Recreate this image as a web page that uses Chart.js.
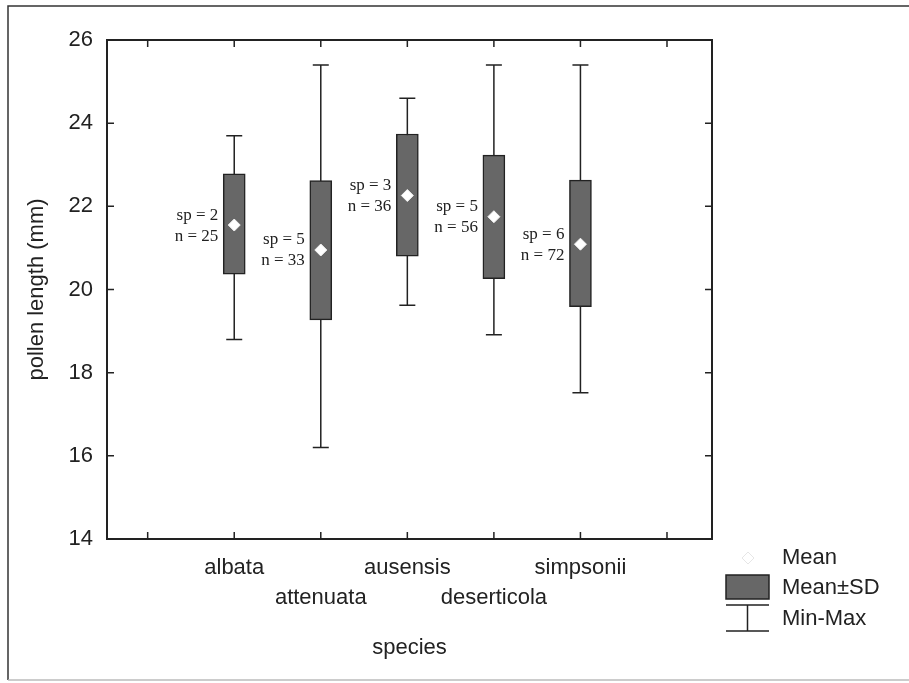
<!DOCTYPE html>
<html>
<head>
<meta charset="utf-8">
<script src="https://cdn.jsdelivr.net/npm/chart.js@4.4.1/dist/chart.umd.min.js"></script>
<style>
  html, body { margin: 0; padding: 0; background: #fff; }
  canvas { display: block; }
</style>
</head>
<body>
<canvas id="my_canvas" width="909" height="683"></canvas>
<script>
// values
const species = ['albata', 'attenuata', 'ausensis', 'deserticola', 'simpsonii'];
const meanVals = [21.55, 20.95, 22.26, 21.75, 21.09];
const sdLow = [20.37, 19.27, 20.80, 20.26, 19.59];
const sdHigh = [22.78, 22.62, 23.74, 23.23, 22.63];
const minVals = [18.80, 16.20, 19.62, 18.91, 17.52];
const maxVals = [23.70, 25.40, 24.60, 25.40, 25.40];
const spCounts = [2, 5, 3, 5, 6];
const nCounts = [25, 33, 36, 56, 72];
const yTicks = [14, 16, 18, 20, 22, 24, 26];
const xTicks = [0, 1, 2, 3, 4, 5, 6];

const ink = '#222';
const boxFill = '#676767';
const boxWidth = 22;
const capWidth = 16;

Chart.defaults.font.family = '"Liberation Sans", Arial, Helvetica, sans-serif';
Chart.defaults.color = ink;

const boxData = species.map((s, i) => ({ x: i + 1, y: [sdLow[i], sdHigh[i]] }));
const meanData = species.map((s, i) => ({ x: i + 1, y: meanVals[i] }));

const framePlugin = {
    id: 'framePlugin',
    beforeDraw(chart) {
        const ctx = chart.ctx;
        ctx.save();
        ctx.fillStyle = '#fff';
        ctx.fillRect(0, 0, chart.width, chart.height);
        // outer border of the figure
        ctx.strokeStyle = '#333';
        ctx.lineWidth = 1.5;
        ctx.beginPath();
        ctx.moveTo(8, 680);
        ctx.lineTo(8, 6);
        ctx.lineTo(909, 6);
        ctx.stroke();
        ctx.strokeStyle = '#bbb';
        ctx.beginPath();
        ctx.moveTo(8, 680);
        ctx.lineTo(909, 680);
        ctx.stroke();
        ctx.restore();
    },
    beforeDatasetsDraw(chart) {
        // whiskers behind the boxes
        const ctx = chart.ctx;
        const xs = chart.scales.x;
        const ys = chart.scales.y;
        ctx.save();
        ctx.strokeStyle = ink;
        ctx.lineWidth = 1.5;
        species.forEach((s, i) => {
            const px = xs.getPixelForValue(i + 1);
            const top = ys.getPixelForValue(maxVals[i]);
            const bot = ys.getPixelForValue(minVals[i]);
            ctx.beginPath();
            ctx.moveTo(px, top);
            ctx.lineTo(px, bot);
            ctx.moveTo(px - capWidth / 2, top);
            ctx.lineTo(px + capWidth / 2, top);
            ctx.moveTo(px - capWidth / 2, bot);
            ctx.lineTo(px + capWidth / 2, bot);
            ctx.stroke();
        });
        ctx.restore();
    },
    afterDraw(chart) {
        const ctx = chart.ctx;
        const area = chart.chartArea;
        const xs = chart.scales.x;
        const ys = chart.scales.y;
        const tick = 7;
        ctx.save();
        ctx.strokeStyle = ink;
        ctx.lineWidth = 2;
        ctx.strokeRect(area.left, area.top, area.right - area.left, area.bottom - area.top);
        ctx.lineWidth = 1.5;
        ctx.beginPath();
        yTicks.forEach(v => {
            const py = ys.getPixelForValue(v);
            ctx.moveTo(area.left, py);
            ctx.lineTo(area.left + tick, py);
            ctx.moveTo(area.right, py);
            ctx.lineTo(area.right - tick, py);
        });
        xTicks.forEach(v => {
            const px = xs.getPixelForValue(v);
            ctx.moveTo(px, area.bottom);
            ctx.lineTo(px, area.bottom - tick);
            ctx.moveTo(px, area.top);
            ctx.lineTo(px, area.top + tick);
        });
        ctx.stroke();

        // sp / n notes left of each box
        ctx.font = '17px "Liberation Serif", "Times New Roman", serif';
        ctx.fillStyle = ink;
        ctx.textAlign = 'right';
        ctx.textBaseline = 'middle';
        species.forEach((s, i) => {
            const px = xs.getPixelForValue(i + 1) - boxWidth / 2 - 5;
            const py = ys.getPixelForValue(meanVals[i]);
            ctx.fillText('sp = ' + spCounts[i], px, py - 10);
            ctx.fillText('n = ' + nCounts[i], px, py + 11);
        });

        // legend
        const lx = 726, lw = 43, tx = 782;
        ctx.fillStyle = '#fff';
        ctx.strokeStyle = '#e6e6e6';
        ctx.lineWidth = 1;
        ctx.beginPath();
        ctx.moveTo(748, 552);
        ctx.lineTo(754, 558);
        ctx.lineTo(748, 564);
        ctx.lineTo(742, 558);
        ctx.closePath();
        ctx.fill();
        ctx.stroke();

        ctx.fillStyle = boxFill;
        ctx.fillRect(lx, 575, lw, 24);
        ctx.strokeStyle = ink;
        ctx.lineWidth = 1.5;
        ctx.strokeRect(lx, 575, lw, 24);
        ctx.beginPath();
        ctx.moveTo(lx, 605);
        ctx.lineTo(lx + lw, 605);
        ctx.moveTo(lx + lw / 2, 605);
        ctx.lineTo(lx + lw / 2, 631);
        ctx.moveTo(lx, 631);
        ctx.lineTo(lx + lw, 631);
        ctx.stroke();

        ctx.font = '22px "Liberation Sans", Arial, sans-serif';
        ctx.fillStyle = ink;
        ctx.textAlign = 'left';
        ctx.fillText('Mean', tx, 558);
        ctx.fillText('Mean\u00B1SD', tx, 588);
        ctx.fillText('Min-Max', tx, 619);
        ctx.restore();
    }
};

const canvas_element = document.getElementById('my_canvas').getContext('2d');

const the_chart = new Chart(canvas_element, {
    type: 'bar',
    data: {
        datasets: [{
            label: 'Mean\u00B1SD',
            data: boxData,
            backgroundColor: boxFill,
            borderColor: ink,
            borderWidth: 1.5,
            borderSkipped: false,
            barThickness: boxWidth,
            order: 2
        }, {
            type: 'line',
            label: 'Mean',
            data: meanData,
            showLine: false,
            pointStyle: 'rectRot',
            pointRadius: 6,
            pointBackgroundColor: '#fff',
            pointBorderColor: '#f2f2f2',
            pointBorderWidth: 1,
            order: 1
        }]
    },
    options: {
        responsive: false,
        animation: false,
        layout: {
            padding: { left: 0, top: 40, right: 197, bottom: 0 }
        },
        plugins: {
            legend: { display: false },
            tooltip: { enabled: false }
        },
        scales: {
            x: {
                type: 'linear',
                offset: false,
                min: -0.47,
                max: 6.52,
                grid: { display: false, drawTicks: false, offset: false },
                border: { display: false },
                afterFit(scale) { scale.height = 144; },
                afterBuildTicks(scale) {
                    scale.ticks = xTicks.map(v => ({ value: v }));
                },
                ticks: {
                    autoSkip: false,
                    maxRotation: 0,
                    padding: 14,
                    font: { size: 22, lineHeight: 1.36 },
                    color: ink,
                    callback(value) {
                        const name = species[value - 1];
                        if (!name) return '';
                        return (value % 2 === 1) ? [name] : ['', name];
                    }
                },
                title: {
                    display: true,
                    text: 'species',
                    font: { size: 22 },
                    color: ink,
                    padding: { top: 0, bottom: 22 }
                }
            },
            y: {
                min: 14,
                max: 26,
                grid: { display: false, drawTicks: false },
                border: { display: false },
                afterFit(scale) { scale.width = 107; },
                afterBuildTicks(scale) {
                    scale.ticks = yTicks.map(v => ({ value: v }));
                },
                ticks: {
                    padding: 14,
                    font: { size: 22 },
                    color: ink
                },
                title: {
                    display: true,
                    text: 'pollen length (mm)',
                    font: { size: 22 },
                    color: ink,
                    padding: { top: 24, bottom: 0 }
                }
            }
        }
    },
    plugins: [framePlugin]
});
</script>
</body>
</html>
